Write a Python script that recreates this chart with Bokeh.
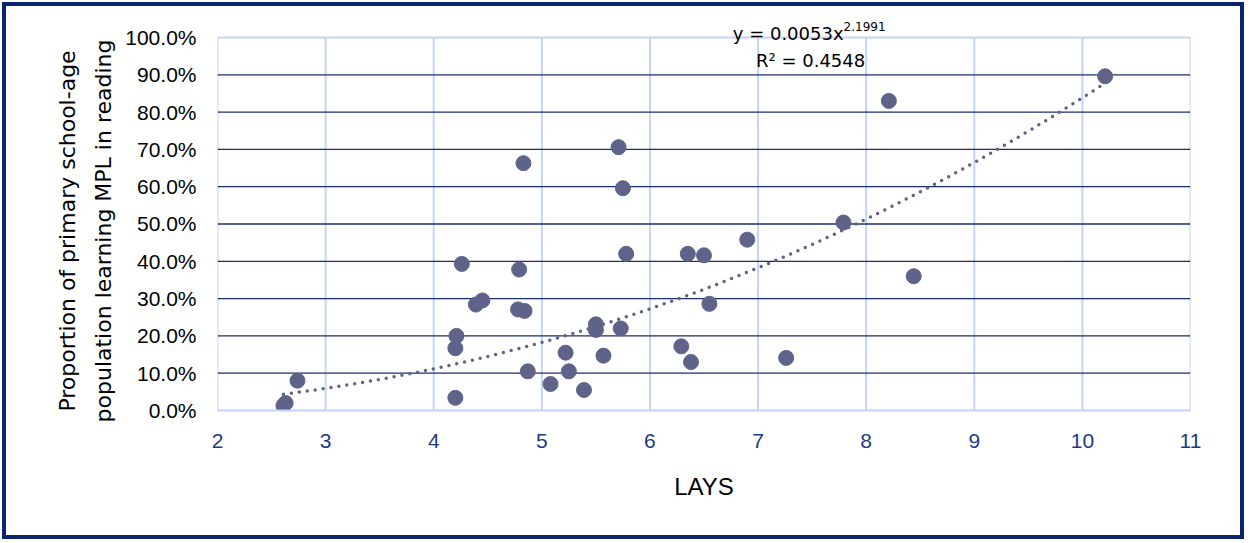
import numpy as np
from bokeh.plotting import figure
from bokeh.models import ColumnDataSource, NumeralTickFormatter, FixedTicker, Label
from bokeh.embed import file_html
from bokeh.resources import INLINE

# ---- data ----
lays = [10.21, 8.21, 7.79, 8.44, 6.90, 6.35, 6.50, 5.78, 5.71, 5.75, 4.83, 4.26,
        4.79, 4.39, 4.45, 4.78, 4.84, 6.55, 5.50, 5.50, 5.73, 4.21, 4.20, 5.22,
        5.57, 6.29, 6.38, 7.26, 4.87, 5.25, 5.08, 5.39, 4.20, 2.74, 2.63, 2.61]
mpl_share = [0.896, 0.830, 0.504, 0.360, 0.458, 0.420, 0.416, 0.420, 0.706, 0.596,
             0.663, 0.393, 0.378, 0.284, 0.295, 0.271, 0.267, 0.286, 0.231, 0.216,
             0.220, 0.200, 0.167, 0.155, 0.147, 0.172, 0.130, 0.141, 0.105, 0.105,
             0.071, 0.055, 0.034, 0.080, 0.020, 0.013]

trend_coef = 0.0053
trend_exp = 2.1991
r_squared = 0.4548

x_ticks = [2, 3, 4, 5, 6, 7, 8, 9, 10, 11]
y_ticks = [0.0, 0.1, 0.2, 0.3, 0.4, 0.5, 0.6, 0.7, 0.8, 0.9, 1.0]
y_inner_ticks = [0.1, 0.2, 0.3, 0.4, 0.5, 0.6, 0.7, 0.8, 0.9]

x_title = "LAYS"
y_title_lines = ["Proportion of primary school-age", "population learning MPL in reading"]

# ---- styling ----
POINT = "#5f6389"
NAVY = "#1b2d6e"
LIGHT = "#c4d4f6"
BORDER = "#0c236e"

X_MIN, X_MAX = x_ticks[0], x_ticks[-1]
Y_MIN, Y_MAX = y_ticks[0], y_ticks[-1]
Y_TOP = 1.0563  # headroom above 100% for the fit equation

p = figure(width=1242, height=537, x_range=(X_MIN, X_MAX), y_range=(Y_MIN, Y_TOP),
           output_backend="svg", toolbar_location=None,
           min_border_left=211, min_border_right=58,
           min_border_top=10, min_border_bottom=133)
p.styles = {"border": f"4px solid {BORDER}", "margin-left": "2px", "margin-top": "2px"}
p.background_fill_color = "white"
p.border_fill_color = "white"
p.outline_line_color = None
p.xgrid.visible = False
p.ygrid.visible = False

# plot-area grid (limited to 0..100%)
p.segment(x0=x_ticks, x1=x_ticks, y0=[Y_MIN] * len(x_ticks), y1=[Y_MAX] * len(x_ticks),
          line_color=LIGHT, line_width=2)
p.segment(x0=[X_MIN] * len(y_inner_ticks), x1=[X_MAX] * len(y_inner_ticks),
          y0=y_inner_ticks, y1=y_inner_ticks, line_color=NAVY, line_width=1.3)
p.segment(x0=[X_MIN], x1=[X_MAX], y0=[Y_MAX], y1=[Y_MAX], line_color=LIGHT, line_width=2)

# axes
p.xaxis.ticker = FixedTicker(ticks=x_ticks)
p.yaxis.ticker = FixedTicker(ticks=y_ticks)
p.yaxis.formatter = NumeralTickFormatter(format="0.0%")
for ax in (p.xaxis, p.yaxis):
    ax.major_tick_line_color = None
    ax.minor_tick_line_color = None
    ax.major_tick_out = 0
    ax.major_tick_in = 0
p.xaxis.axis_line_color = LIGHT
p.xaxis.axis_line_width = 2
p.yaxis.axis_line_color = None

p.xaxis.major_label_text_font = "Liberation Sans"
p.xaxis.major_label_text_font_size = "21px"
p.xaxis.major_label_text_color = "#1d3a84"
p.xaxis.major_label_standoff = 23
p.xaxis.axis_label = x_title
p.xaxis.axis_label_text_font = "Liberation Sans"
p.xaxis.axis_label_text_font_size = "24px"
p.xaxis.axis_label_text_font_style = "normal"
p.xaxis.axis_label_text_color = "black"
p.xaxis.axis_label_standoff = 22

pad = "\u00a0" * 5  # shifts the centred title down to sit on the 0-100% span
p.yaxis.major_label_text_font = "Liberation Sans"
p.yaxis.major_label_text_font_size = "21px"
p.yaxis.major_label_text_color = "black"
p.yaxis.major_label_standoff = 21
p.yaxis.axis_label = "\n".join(line + pad for line in y_title_lines)
p.yaxis.axis_label_text_font = "DejaVu Sans"
p.yaxis.axis_label_text_font_size = "22px"
p.yaxis.axis_label_text_font_style = "normal"
p.yaxis.axis_label_text_color = "black"
p.yaxis.axis_label_text_line_height = 1.45
p.yaxis.axis_label_standoff = 6

# trendline from the chart's displayed power fit
tx = np.linspace(min(lays), max(lays), 200)
ty = trend_coef * tx ** trend_exp
p.line(tx, ty, line_color=POINT, line_width=3.5, line_dash="0 8", line_cap="round")

src = ColumnDataSource(dict(x=lays, y=mpl_share))
p.scatter("x", "y", source=src, size=15, fill_color=POINT, line_color=POINT)

# equation labels
p.add_layout(Label(x=7.791, y=1.0107, text=f"y = {trend_coef}x", text_align="right",
                   text_baseline="alphabetic", text_font="DejaVu Sans",
                   text_font_size="18px", text_color="black"))
p.add_layout(Label(x=7.791, y=1.0295, text=f"{trend_exp}", text_align="left",
                   text_baseline="alphabetic", text_font="DejaVu Sans",
                   text_font_size="12px", text_color="black"))
p.add_layout(Label(x=7.486, y=0.938, text=f"R\u00b2 = {r_squared}", text_align="center",
                   text_baseline="alphabetic", text_font="DejaVu Sans",
                   text_font_size="18px", text_color="black"))

open("out.html", "w").write(file_html(p, INLINE))
